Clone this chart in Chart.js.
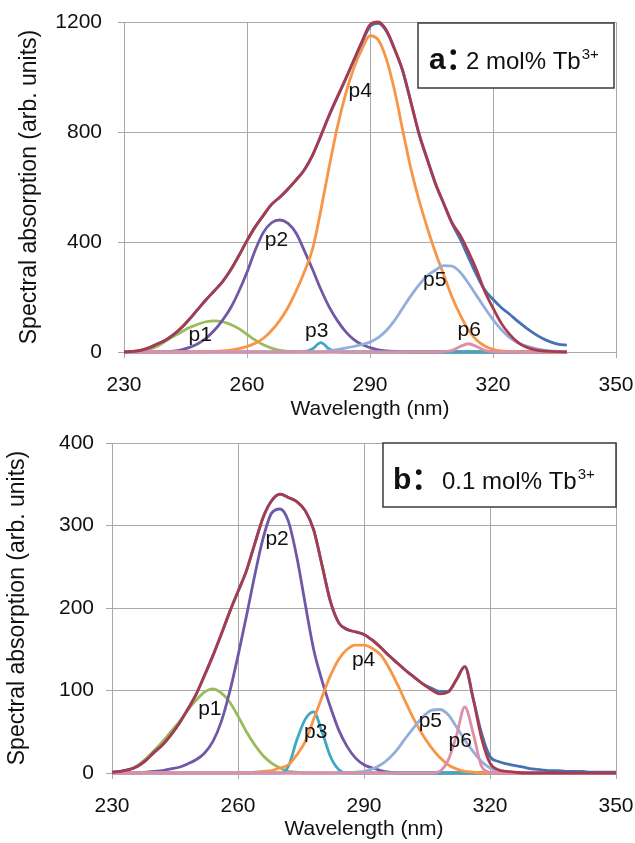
<!DOCTYPE html>
<html>
<head>
<meta charset="utf-8">
<script src="https://cdn.jsdelivr.net/npm/chart.js@4.4.0/dist/chart.umd.min.js"></script>
<style>
  body { margin: 0; background: #fff; }
  .panel { position: absolute; left: 0; width: 635px; }
</style>
</head>
<body>
<div class="panel" style="top:0;height:425px"><canvas id="chartA"></canvas></div>
<div class="panel" style="top:425px;height:418px"><canvas id="chartB"></canvas></div>
<script>
// wavelength grid (nm)
const wlA = [230,232,234,236,238,240,242,244,246,248,250,252,254,256,258,260,262,264,266,268,270,272,274,276,278,280,282,284,286,288,290,292,294,296,298,300,302,304,306,308,310,312,314,316,318,320,322,324,326,328,330,332,334,336,338];
const wlB = [230,232,234,236,238,240,242,244,246,248,250,252,254,256,258,260,262,264,266,268,270,272,274,276,278,280,282,284,286,288,290,292,294,296,298,300,302,304,306,308,310,312,314,316,318,320,322,324,326,328,330,332,334,336,338,340,342,344,346,348,350];

// a: 2 mol% Tb3+
const measA = [0,2,6,15,28,42,62,88,120,155,190,222,255,298,350,405,455,497,537,563,593,626,663,716,786,858,925,990,1058,1124,1183,1195,1166,1100,1020,906,790,698,610,538,468,410,345,280,225,192,162,138,112,89,68,50,37,28,25];
const fitA  = [0,2,6,15,28,42,62,88,120,155,190,222,255,298,350,405,455,497,537,563,593,626,663,716,786,860,927,992,1060,1128,1190,1200,1170,1102,1022,908,792,700,612,540,470,425,365,298,220,160,105,65,36,18,9,4,2,1,0];
const p1A = [0,1,4,10,20,38,56,73,89,101,110,113,110,100,85,64,43,26,14,6,2,1,0,0,0,0,0,0,0,0,0,0,0,0,0,0,0,0,0,0,0,0,0,0,0,0,0,0,0,0,0,0,0,0,0];
const p2A = [0,0,0,0,0,1,3,8,17,30,50,78,115,160,220,290,370,435,470,480,468,432,368,300,228,165,115,75,46,27,16,8,4,2,1,0,0,0,0,0,0,0,0,0,0,0,0,0,0,0,0,0,0,0,0];
const p3A = [0,0,0,0,0,0,0,0,0,0,0,0,0,0,0,0,0,0,0,0,0,0,1,12,34,12,1,0,0,0,0,0,0,0,0,0,0,0,0,0,0,0,0,0,0,0,0,0,0,0,0,0,0,0,0];
const p4A = [0,0,0,0,0,0,0,0,0,0,1,2,4,7,12,20,32,50,78,115,162,222,292,375,515,670,815,935,1030,1100,1150,1135,1065,950,805,665,550,450,360,280,200,135,80,44,22,10,4,2,1,0,0,0,0,0,0];
const p5A = [0,0,0,0,0,0,0,0,0,0,0,0,0,0,0,0,0,0,0,0,0,0,0,0,0,5,9,14,20,27,36,52,78,115,160,205,245,278,298,314,312,290,250,205,160,118,82,53,34,22,14,8,4,2,1];
const p6A = [0,0,0,0,0,0,0,0,0,0,0,0,0,0,0,0,0,0,0,0,0,0,0,0,0,0,0,0,0,0,0,0,0,0,0,0,0,0,0,1,6,20,30,20,6,1,0,0,0,0,0,0,0,0,0];

// b: 0.1 mol% Tb3+
const measB = [1,2,4,8,15,25,34,46,60,77,95,118,142,168,195,220,245,278,310,330,338,334,329,318,295,252,208,182,174,171,168,161,152,142,133,124,116,108,103,99,99,113,129,90,48,20,14,11,9,7,5,4,3,3,2,2,2,1,1,1,1];
const fitB  = [1,2,4,8,15,25,34,46,60,77,95,118,142,168,195,220,245,278,310,330,338,334,329,318,295,252,208,182,174,171,168,161,152,142,133,124,116,108,101,96,98,113,129,90,42,12,4,2,1,0,0,0,0,0,0,0,0,0,0,0,0];
const p1B = [0,1,4,9,17,27,38,50,62,76,88,98,102,97,86,69,50,34,21,12,6,2,1,0,0,0,0,0,0,0,0,0,0,0,0,0,0,0,0,0,0,0,0,0,0,0,0,0,0,0,0,0,0,0,0,0,0,0,0,0,0];
const p2B = [0,0,0,0,1,2,3,5,7,11,16,24,38,62,98,142,190,240,285,315,320,305,262,205,150,112,80,52,32,18,10,6,3,1,0,0,0,0,0,0,0,0,0,0,0,0,0,0,0,0,0,0,0,0,0,0,0,0,0,0,0];
const p3B = [0,0,0,0,0,0,0,0,0,0,0,0,0,0,0,0,0,0,0,0,0,8,40,65,74,50,20,4,0,0,0,0,0,0,0,0,0,0,0,0,0,0,0,0,0,0,0,0,0,0,0,0,0,0,0,0,0,0,0,0,0];
const p4B = [0,0,0,0,0,0,0,0,0,0,0,0,0,0,0,0,0,1,2,3,6,10,22,38,65,92,118,138,150,155,155,151,143,127,107,85,64,46,31,19,10,5,2,1,0,0,0,0,0,0,0,0,0,0,0,0,0,0,0,0,0];
const p5B = [0,0,0,0,0,0,0,0,0,0,0,0,0,0,0,0,0,0,0,0,0,0,0,0,0,0,0,0,0,1,2,5,10,18,29,43,56,68,76,77,71,56,40,26,14,6,2,1,0,0,0,0,0,0,0,0,0,0,0,0,0];
const p6B = [0,0,0,0,0,0,0,0,0,0,0,0,0,0,0,0,0,0,0,0,0,0,0,0,0,0,0,0,0,0,0,0,0,0,0,0,0,0,0,2,15,45,80,48,8,1,0,0,0,0,0,0,0,0,0,0,0,0,0,0,0];

const xTicks = [230, 260, 290, 320, 350];
const peakNames = ['p1', 'p2', 'p3', 'p4', 'p5', 'p6'];
// where the peak names sit, [wavelength, value]
const labelPosA = [[248.6, 62], [267.2, 405], [277, 75], [287.6, 950], [305.8, 260], [314.2, 78]];
const labelPosB = [[253.3, 77], [269.3, 283], [278.5, 50], [289.9, 137], [305.8, 63], [312.9, 38]];

const FONT = '"Liberation Sans", Arial, sans-serif';
const colors = {
  meas: '#4672b4', fit: '#a83c4e',
  p1: '#9bbb59', p2: '#7058a6', p3: '#3fa8c4', p4: '#f79646', p5: '#93aedb', p6: '#dd8fa9'
};

function line(xs, ys, color) {
  return {
    data: xs.map((x, i) => ({ x: x, y: ys[i] })),
    borderColor: color,
    borderWidth: 2.8,
    pointRadius: 0,
    fill: false,
    clip: false,
    cubicInterpolationMode: 'monotone'
  };
}

// text box and peak names
const notesPlugin = {
  id: 'notes',
  afterDatasetsDraw(chart, args, o) {
    const { ctx, chartArea, scales: { x, y } } = chart;
    ctx.save();
    ctx.fillStyle = '#111';
    ctx.font = '21px ' + FONT;
    ctx.textAlign = 'center';
    ctx.textBaseline = 'middle';
    o.labels.forEach((p, i) => {
      ctx.fillText(peakNames[i], x.getPixelForValue(p[0]), y.getPixelForValue(p[1]));
    });

    const bx = chartArea.right - o.boxRight - o.boxW;
    const by = chartArea.top + o.boxTop;
    ctx.fillStyle = '#fff';
    ctx.fillRect(bx, by, o.boxW, o.boxH);
    ctx.strokeStyle = '#3a3a3a';
    ctx.lineWidth = 1.5;
    ctx.strokeRect(bx, by, o.boxW, o.boxH);

    ctx.fillStyle = '#111';
    ctx.textAlign = 'left';
    ctx.textBaseline = 'alphabetic';
    const base = by + o.baseline;
    ctx.font = 'bold 30px ' + FONT + ', "Noto Sans CJK SC"';
    ctx.fillText(o.tag, bx + o.tagX, base);
    ctx.font = '24px ' + FONT;
    ctx.fillText(o.text, bx + o.textX, base);
    const w = ctx.measureText(o.text).width;
    ctx.font = '15px ' + FONT;
    ctx.fillText('3+', bx + o.textX + w + 1, base - 10);
    ctx.restore();
  }
};

function makeChart(id, wl, meas, fit, comps, yMax, yStep, lay, note) {
  const datasets = [
    line(wl, fit, colors.fit),
    line(wl, meas, colors.meas),
    line(wl, comps[5], colors.p6),
    line(wl, comps[4], colors.p5),
    line(wl, comps[3], colors.p4),
    line(wl, comps[2], colors.p3),
    line(wl, comps[1], colors.p2),
    line(wl, comps[0], colors.p1)
  ];
  return new Chart(document.getElementById(id), {
    type: 'line',
    data: { datasets: datasets },
    options: {
      responsive: true,
      maintainAspectRatio: false,
      animation: false,
      layout: { padding: { top: lay.padTop, right: 19, left: 0, bottom: 0 } },
      plugins: {
        legend: { display: false },
        tooltip: { enabled: false },
        notes: note
      },
      scales: {
        x: {
          type: 'linear',
          min: 230, max: 350,
          afterBuildTicks: (s) => { s.ticks = xTicks.map(v => ({ value: v })); },
          afterFit: (s) => { s.height = lay.xAxisH; },
          grid: { color: '#a8a8a8', lineWidth: 1, tickLength: 6 },
          border: { color: '#a8a8a8' },
          // small padding keeps the right edge free; lineHeight moves the labels down
          ticks: { color: '#111', padding: 1, font: { family: FONT, size: 21, lineHeight: lay.xTickLH } },
          title: {
            display: true, text: 'Wavelength (nm)', color: '#111',
            font: { family: FONT, size: 21 }, padding: { top: 0, bottom: lay.xTitlePad }
          }
        },
        y: {
          min: 0, max: yMax,
          ticks: {
            stepSize: yStep, color: '#111', padding: lay.yTickPad,
            font: { family: FONT, size: 21, lineHeight: 0.5 },
            callback: (v) => String(v)
          },
          afterFit: (s) => { s.width = lay.axisW; },
          grid: { color: '#a8a8a8', lineWidth: 1, tickLength: 6 },
          border: { color: '#a8a8a8' },
          title: {
            display: true, text: 'Spectral absorption (arb. units)', color: '#111',
            font: { family: FONT, size: 23 }, padding: { top: lay.yTitlePad, bottom: 0 }
          }
        }
      }
    },
    plugins: [notesPlugin]
  });
}

makeChart('chartA', wlA, measA, fitA, [p1A, p2A, p3A, p4A, p5A, p6A], 1200, 400,
  { axisW: 124, padTop: 22, xAxisH: 73, xTickLH: 2.5, xTitlePad: 3, yTickPad: 16, yTitlePad: 16 },
  { labels: labelPosA, boxW: 196, boxH: 65, boxRight: 2, boxTop: 1, baseline: 46, tagX: 11, textX: 48, tag: 'a：', text: '2 mol% Tb' });

makeChart('chartB', wlB, measB, fitB, [p1B, p2B, p3B, p4B, p5B, p6B], 400, 100,
  { axisW: 112, padTop: 18, xAxisH: 70, xTickLH: 2.5, xTitlePad: 1, yTickPad: 12, yTitlePad: 4 },
  { labels: labelPosB, boxW: 233, boxH: 64, boxRight: 0, boxTop: 0, baseline: 46, tagX: 10, textX: 59, tag: 'b：', text: '0.1 mol% Tb' });
</script>
</body>
</html>
